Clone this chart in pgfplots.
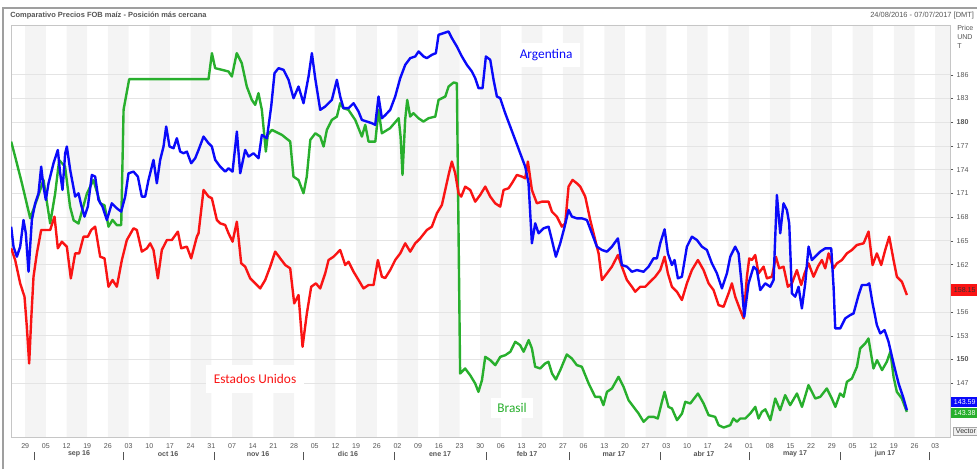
\documentclass[border=0pt]{standalone}
\usepackage{fontspec}
\setmainfont{Liberation Sans}
\newfontfamily\carlito{Carlito}
\usepackage{pgfplots}
\pgfplotsset{compat=1.18}
\definecolor{cblue}{RGB}{10,10,250}
\definecolor{cred}{RGB}{250,20,20}
\definecolor{cgreen}{RGB}{40,175,45}
\definecolor{band}{RGB}{244,244,244}
\definecolor{gridc}{RGB}{228,228,228}
\definecolor{labc}{RGB}{85,85,85}

\pgfplotstableread{
d p
-4.74 177.56
-3.4 175.66
-1.1 172.28
1.7 167.86
3.95 170.18
6.2 172.7
8.46 167.2
10.15 171.0
11.5 175.2
13.5 174.4
15.2 169.3
16.4 167.6
18.05 167.2
20.9 171.0
23.1 172.7
25.4 169.75
26.85 169.5
28.2 166.8
29.55 167.65
31.0 167.0
32.5 167.0
33.3 181.6
35.2 185.45
62.05 185.45
63.2 188.74
64.3 186.84
66.6 186.63
68.8 186.42
69.95 185.79
71.6 188.74
73.3 187.47
75.0 184.52
76.7 182.83
77.85 182.2
78.95 183.68
80.1 181.57
81.45 176.29
82.1 178.4
83.5 179.04
86.9 178.4
89.7 177.56
90.8 173.13
92.5 172.7
94.2 171.02
95.3 173.13
96.5 177.77
98.2 178.61
99.85 178.19
101.0 176.93
102.1 179.04
103.8 180.3
105.5 180.72
106.6 182.41
107.7 181.78
109.4 181.57
111.7 180.3
113.95 178.19
115.1 179.67
116.2 177.56
118.5 177.56
119.6 181.57
120.7 178.61
123.5 179.25
126.4 180.51
127.05 178.19
127.7 173.34
128.6 180.3
129.3 182.83
130.3 180.72
131.4 181.15
133.1 180.51
134.8 180.09
136.5 180.51
138.8 180.72
139.9 182.83
142.2 183.26
143.3 184.52
145.0 185.03
146.1 184.94
147.2 148.23
148.9 148.87
150.6 148.02
152.3 146.97
153.4 145.91
154.6 147.39
155.7 150.34
157.4 149.92
159.1 149.29
160.8 150.34
162.5 150.55
164.2 150.98
165.85 152.24
167.5 151.82
168.7 150.98
170.4 152.45
171.5 151.4
172.6 149.08
174.3 148.87
176.0 149.5
177.1 149.71
178.3 148.23
179.6 147.47
181.1 148.66
183.3 150.64
185.0 150.13
186.7 149.29
188.4 149.08
190.7 146.97
192.9 145.28
194.6 145.28
195.7 144.23
196.9 145.91
198.6 146.34
200.8 147.81
202.5 146.55
204.2 144.86
205.9 144.01
207.6 143.17
209.3 142.12
211.0 142.75
212.7 142.75
214.1 142.54
215.5 144.65
216.4 145.91
217.7 144.01
218.9 143.8
220.6 142.33
222.3 143.17
223.4 144.65
225.1 144.44
227.7 145.7
229.6 144.44
231.3 142.96
233.5 142.75
234.7 141.69
236.4 141.4
238.6 141.69
239.7 142.54
240.9 142.12
242.0 142.54
243.7 142.54
245.4 143.17
247.1 144.01
248.2 142.54
249.3 143.38
250.5 143.7
252.2 142.33
253.85 145.07
255.5 143.59
257.2 145.49
258.9 144.23
261.2 145.7
262.9 144.01
265.1 146.76
267.4 145.07
269.1 145.28
271.3 146.34
273.0 145.07
274.2 144.01
275.8 145.7
277.0 145.28
278.1 147.18
279.8 147.6
281.5 149.08
282.6 151.4
284.3 152.03
285.4 152.66
287.1 148.87
288.3 149.92
290.0 148.66
291.6 149.71
292.8 150.98
293.9 147.81
295.0 145.91
296.7 145.07
298.4 143.38
}\brasil

\pgfplotstableread{
d p
-4.74 166.8
-3.95 164.27
-2.82 163.0
-1.69 164.27
-0.57 167.64
0.22 165.96
1.13 161.1
2.26 167.64
3.38 169.75
4.51 171.02
5.41 174.39
6.2 171.86
6.99 170.18
7.9 172.28
9.59 174.82
11.05 176.5
11.85 173.55
12.63 171.44
13.54 176.08
14.1 176.93
15.23 173.97
16.92 170.6
18.05 171.02
18.95 169.54
20.08 168.07
21.21 169.33
22.56 173.34
23.69 173.13
24.82 170.18
26.17 169.33
27.64 167.64
29.33 169.75
31.02 169.12
32.49 168.7
33.84 170.6
34.97 173.55
36.66 173.76
38.13 173.13
39.48 170.6
40.61 170.6
41.74 172.71
43.43 175.24
44.56 172.28
45.69 175.24
46.82 176.93
47.72 179.46
48.85 176.93
50.2 176.72
51.33 177.98
52.46 176.29
53.59 176.08
54.72 176.29
56.18 174.82
57.54 175.45
58.67 176.5
60.36 178.19
62.05 177.35
63.18 176.93
64.31 175.24
66.0 174.39
67.69 173.76
68.82 174.18
70.18 173.76
71.64 178.82
72.77 173.55
74.46 176.5
75.59 175.66
77.28 176.08
78.97 175.45
80.1 178.4
81.8 177.98
83.26 181.99
84.39 186.21
85.74 186.84
87.44 186.63
89.13 185.37
90.82 183.04
92.51 184.52
94.2 182.41
95.9 185.79
97.03 188.74
98.15 185.58
99.85 181.57
101.54 181.99
103.79 182.83
105.49 185.37
106.61 183.26
107.74 181.78
109.43 181.78
111.13 182.41
112.82 181.36
113.95 180.3
115.64 180.09
117.33 179.88
118.46 179.67
119.59 183.26
120.72 180.51
121.85 180.9
123.54 181.57
125.23 183.26
126.93 185.58
128.62 187.26
130.31 188.11
132.0 188.32
133.13 188.95
134.82 188.32
135.95 188.11
137.64 188.53
139.0 188.74
139.9 191.06
141.59 191.27
143.29 191.48
144.41 190.64
146.11 189.58
147.8 188.32
149.49 187.26
151.18 186.42
152.31 185.58
153.44 184.31
154.79 184.31
155.92 188.32
157.39 187.9
158.52 185.37
159.64 183.26
160.77 183.04
162.46 181.15
164.16 179.46
165.85 177.77
167.54 176.08
169.23 174.39
170.36 172.28
171.49 164.69
172.62 167.22
173.75 165.96
175.44 166.59
177.13 166.8
178.26 165.11
179.61 163.0
181.08 164.69
182.43 166.59
183.9 168.91
185.03 168.07
186.72 167.85
188.42 167.85
190.11 167.64
191.8 165.96
193.49 164.27
195.19 163.85
196.88 163.64
198.57 164.27
200.6 165.32
201.95 161.95
203.65 161.74
205.34 161.1
207.03 161.31
209.29 161.1
210.98 161.74
212.67 162.79
213.8 162.79
214.93 164.69
216.4 166.46
217.52 163.42
218.88 161.95
219.78 162.58
220.91 160.26
222.26 160.47
223.95 164.27
225.64 165.53
227.34 165.11
229.03 164.27
230.72 163.85
232.41 162.16
234.11 160.89
235.8 158.99
237.49 160.89
238.62 163.0
240.31 164.27
241.44 163.42
242.57 159.2
243.36 155.41
244.82 159.63
246.52 161.74
247.65 161.31
248.77 158.78
250.46 159.63
252.15 159.2
253.28 160.05
254.41 170.81
255.54 165.96
256.66 169.75
257.79 168.91
258.58 167.22
259.49 158.36
260.61 157.94
261.74 159.2
262.87 156.46
264.0 159.63
265.13 164.27
266.25 162.58
267.38 163.0
269.08 163.64
270.77 164.06
272.8 164.06
273.59 159.2
274.15 153.93
275.84 153.93
277.54 155.2
279.23 155.62
280.36 155.83
282.05 158.15
283.18 159.42
284.87 159.42
285.66 159.63
286.79 157.1
288.25 154.35
289.38 153.3
290.85 153.72
292.2 152.24
293.89 149.5
295.59 146.97
297.28 145.07
298.41 143.59
}\argentina

\pgfplotstableread{
d p
-4.74 164.06
-3.39 162.58
-1.69 159.63
-0.23 157.94
0.56 154.14
1.35 149.5
2.03 154.99
2.82 160.47
3.95 163.42
5.41 166.38
6.77 166.38
8.46 166.38
9.93 168.07
11.05 164.06
12.41 164.9
14.1 164.27
15.45 160.26
16.92 163.42
18.27 163.42
19.74 165.53
21.21 165.53
22.34 166.38
23.69 166.8
25.38 163.0
26.85 162.79
28.2 159.2
29.56 160.05
31.02 159.2
32.72 162.58
34.41 165.11
36.66 166.59
37.79 166.38
39.48 163.64
41.18 164.06
42.3 164.69
43.43 163.85
44.9 160.26
46.25 163.85
47.95 165.11
49.64 165.11
51.67 166.17
52.8 164.06
54.72 164.27
56.18 162.79
58.1 165.53
58.67 165.96
60.36 171.44
62.05 170.6
63.18 170.39
64.87 167.64
66.0 167.22
67.69 167.01
68.82 165.96
70.18 164.9
71.64 167.43
73.11 162.16
74.46 161.74
76.15 160.26
77.85 159.63
79.54 158.99
81.23 160.05
82.92 161.74
84.62 163.64
86.31 162.79
88.0 161.95
89.69 161.53
91.05 157.1
92.51 158.15
93.87 151.61
95.33 155.83
96.8 159.2
98.38 159.63
99.85 158.99
101.54 160.89
102.67 162.58
104.36 163.0
106.61 163.85
108.31 161.95
109.43 162.37
111.13 161.1
112.82 160.05
114.51 158.99
116.2 159.42
117.9 159.42
119.36 162.58
120.72 160.47
121.85 160.3
123.54 161.31
125.23 162.58
126.93 163.42
128.62 164.69
130.31 163.64
132.0 164.69
133.7 165.32
135.95 166.38
137.64 166.8
139.34 168.49
141.03 169.54
142.16 171.44
143.29 173.34
144.41 175.03
145.54 173.55
146.67 171.02
147.57 170.6
148.93 171.86
150.62 171.44
152.31 169.96
154.0 170.81
155.7 171.86
157.39 170.6
159.08 169.75
160.77 169.33
161.9 171.44
163.59 171.65
164.72 172.28
166.41 173.34
168.1 173.13
169.23 172.92
170.14 175.03
171.49 171.44
173.18 169.75
174.87 169.96
177.13 169.96
178.26 168.7
179.95 168.07
181.64 166.8
182.77 167.22
183.9 171.86
185.25 172.71
186.72 172.28
187.85 171.86
189.54 170.6
191.24 167.64
192.93 165.11
194.06 163.42
195.19 160.05
196.88 160.89
198.57 161.74
200.6 163.21
201.95 161.74
203.65 160.05
205.34 159.2
206.47 158.57
208.16 159.2
209.85 159.2
211.54 159.84
213.24 160.47
214.93 161.31
216.4 163.0
217.52 160.89
218.88 159.2
220.57 158.57
222.26 157.52
223.95 159.63
225.64 161.31
227.68 162.58
229.59 161.31
231.29 159.63
232.98 158.78
234.67 156.88
236.36 156.67
238.05 158.36
239.18 159.63
240.31 157.94
242.0 156.25
243.13 155.2
244.26 160.47
245.05 162.79
245.95 162.58
247.08 163.21
248.21 160.89
249.9 161.74
251.03 160.26
252.72 160.47
254.07 163.0
255.2 161.53
256.66 161.74
258.13 159.2
259.49 159.63
261.18 161.31
262.64 159.42
263.77 160.89
265.13 162.16
266.82 160.47
268.28 161.74
269.64 162.58
270.77 161.53
271.9 163.42
273.59 161.53
274.72 162.16
276.41 162.58
278.1 163.42
279.79 163.85
281.48 164.48
283.74 164.69
285.43 166.17
286.79 161.95
288.25 163.42
289.72 161.95
291.07 163.85
292.43 165.53
293.89 162.58
295.02 160.47
296.71 159.84
298.41 158.15
}\eeuu

\begin{document}
\begin{tikzpicture}
\begin{axis}[
  set layers,
  at={(8.25pt,24pt)}, anchor=south west,
  scale only axis, width=704.25pt, height=309pt,
  xmin=-4.8, xmax=313, ymin=140.2, ymax=192.3,
  axis line style={gray!45},
  ytick={147,150,153,156,162,165,168,171,174,177,180,183,186},
  yticklabels={147,\textbf{150},153,156,162,165,168,171,174,177,\textbf{180},183,186},
  ytick pos=right, yticklabel pos=right,
  ymajorgrids, grid style={gridc, line width=0.6pt},
  tick align=outside, major tick length=2.5pt,
  ytick style={labc, line width=0.4pt},
  xtick style={draw=none},
  /pgf/number format/assume math mode=true,
  y tick label style={font=\fontsize{5.3}{6}\selectfont, text=labc, xshift=-1pt},
  x tick label style={font=\fontsize{5.3}{6}\selectfont, text=labc, yshift=1pt},
  xtick={0,7,...,308},
  xticklabels={29,05,12,19,26,03,10,17,24,31,07,14,21,28,05,12,19,26,02,09,16,23,30,06,13,20,27,06,13,20,27,03,10,17,24,01,08,15,22,29,05,12,19,26,03},
]
\addplot[fill=band, draw=none, on layer=axis background] coordinates {
(0,140.2)(0,192.3)(7,192.3)(7,140.2)
(14,140.2)(14,192.3)(21,192.3)(21,140.2)
(28,140.2)(28,192.3)(35,192.3)(35,140.2)
(42,140.2)(42,192.3)(49,192.3)(49,140.2)
(56,140.2)(56,192.3)(63,192.3)(63,140.2)
(70,140.2)(70,192.3)(77,192.3)(77,140.2)
(84,140.2)(84,192.3)(91,192.3)(91,140.2)
(98,140.2)(98,192.3)(105,192.3)(105,140.2)
(112,140.2)(112,192.3)(119,192.3)(119,140.2)
(126,140.2)(126,192.3)(133,192.3)(133,140.2)
(140,140.2)(140,192.3)(147,192.3)(147,140.2)
(154,140.2)(154,192.3)(161,192.3)(161,140.2)
(168,140.2)(168,192.3)(175,192.3)(175,140.2)
(182,140.2)(182,192.3)(189,192.3)(189,140.2)
(196,140.2)(196,192.3)(203,192.3)(203,140.2)
(210,140.2)(210,192.3)(217,192.3)(217,140.2)
(224,140.2)(224,192.3)(231,192.3)(231,140.2)
(238,140.2)(238,192.3)(245,192.3)(245,140.2)
(252,140.2)(252,192.3)(259,192.3)(259,140.2)
(266,140.2)(266,192.3)(273,192.3)(273,140.2)
(280,140.2)(280,192.3)(287,192.3)(287,140.2)
(294,140.2)(294,192.3)(301,192.3)(301,140.2)
(308,140.2)(308,192.3)(313,192.3)(313,140.2)
};
\addplot[cgreen, line width=1.8pt, line join=round] table[x=d,y=p] {\brasil};
\addplot[cred, line width=1.8pt, line join=round] table[x=d,y=p] {\eeuu};
\addplot[cblue, line width=1.8pt, line join=round] table[x=d,y=p] {\argentina};
\node[fill=white, inner xsep=6pt, inner ysep=5pt, text=cblue, font=\carlito\fontsize{10}{12}\selectfont] at (axis cs:176.3,188.5) {Argentina};
\node[fill=white, inner xsep=6pt, inner ysep=7pt, text=cred, font=\carlito\fontsize{10}{12}\selectfont] at (axis cs:77.8,147.5) {Estados Unidos};
\node[fill=white, inner xsep=5pt, inner ysep=4pt, text=cgreen, font=\carlito\fontsize{10}{12}\selectfont] at (axis cs:164.8,143.85) {Brasil};
\end{axis}
\begin{scope}[x=0.75pt,y=0.75pt]
  \draw[gray!75, line width=1pt] (3,0) -- (3,461) -- (977,461);
  \node[anchor=west, inner sep=0pt, font=\bfseries\fontsize{5.6}{6}\selectfont, text=labc] at (10,453) {Comparativo Precios FOB maíz - Posición más cercana};
  \node[anchor=west, inner sep=0pt, font=\fontsize{5.6}{6}\selectfont, text=labc] at (870,453) {24/08/2016 - 07/07/2017 [DMT]};
  \node[anchor=north west, inner sep=0pt, align=left, font=\fontsize{5.3}{6.8}\selectfont, text=labc] at (957,444) {Price\\UND\\T};
  \node[anchor=west, fill=cred, inner xsep=2pt, inner ysep=1pt, minimum height=9pt, font=\fontsize{5.3}{6}\selectfont, text=black!80] at (951,179) {158.15};
  \node[anchor=west, fill=cblue, inner xsep=2pt, inner ysep=1pt, minimum height=8pt, font=\fontsize{5.3}{6}\selectfont, text=white] at (951,67) {143.59};
  \node[anchor=west, fill=cgreen, inner xsep=2pt, inner ysep=1pt, minimum height=8pt, font=\fontsize{5.3}{6}\selectfont, text=white] at (951,56) {143.38};
  \node[anchor=west, fill=gray!12, draw=gray!70, inner xsep=2pt, inner ysep=1pt, font=\fontsize{5.3}{6}\selectfont, text=black!80] at (953,38) {Vector};
  \foreach \s in {34,123,214,303,394,486,569,660,749,840,929}{
    \draw[labc, line width=0.5pt] (\s,9) -- (\s,17);
  }
  \foreach \m/\t in {79/sep 16,168/oct 16,258/nov 16,348/dic 16,440/ene 17,527/feb 17,614/mar 17,704/abr 17,795/may 17,885/jun 17}{
    \node[font=\bfseries\fontsize{5.3}{6}\selectfont, text=labc, inner sep=0pt] at (\m,15) {\t};
  }
\end{scope}
\pgfresetboundingbox
\useasboundingbox (0,0) rectangle (732.75pt,351.75pt);
\end{tikzpicture}
\end{document}
